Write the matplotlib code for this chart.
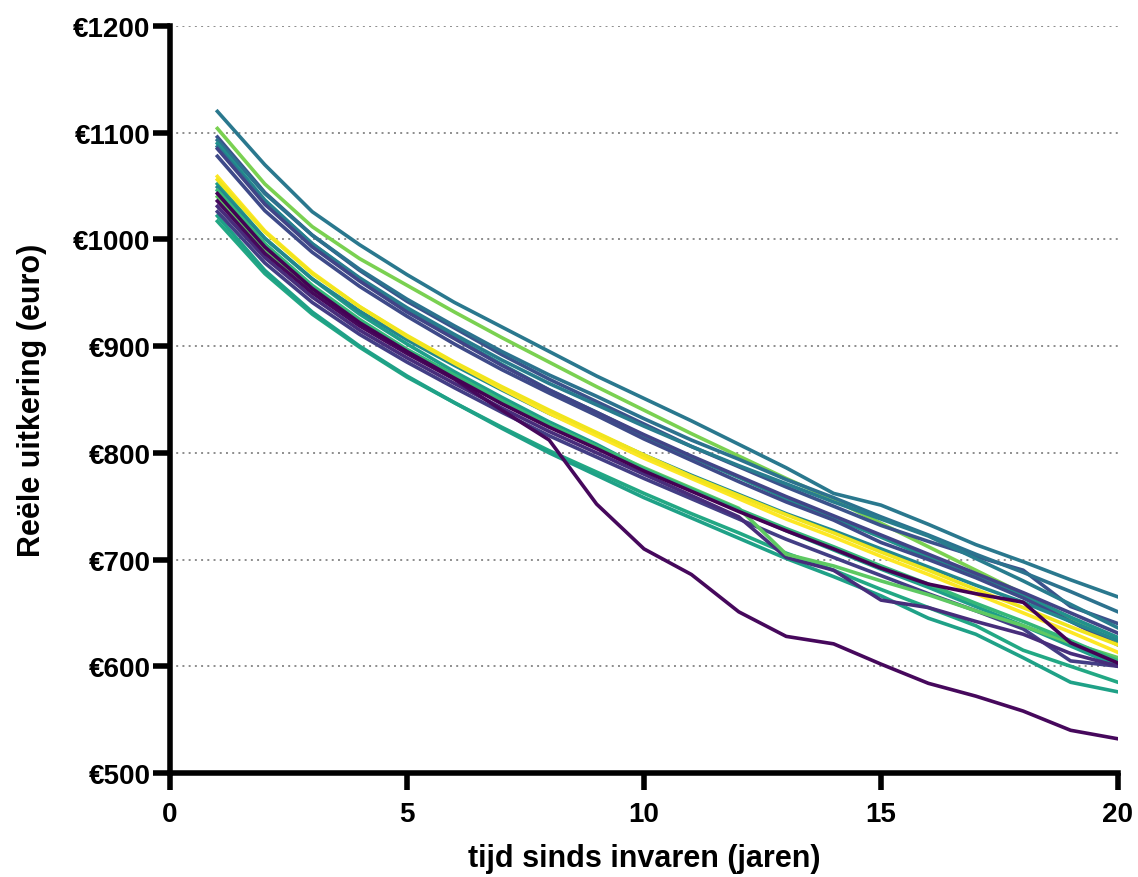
import numpy as np
import matplotlib.pyplot as plt

jaren = list(range(1, 21))

# reële uitkering per scenario (euro), jaar 1 t/m 20
scenarios = {
    'A': [1120, 1070, 1026, 995, 967, 941, 918, 895, 872, 851, 830, 808, 786, 762, 751, 733, 714, 698, 681, 665],
    'B': [1104, 1052, 1012, 982, 957, 932, 908, 885, 862, 840, 818, 797, 776, 756, 734, 712, 690, 668, 645, 622],
    'C': [1096, 1044, 1004, 971, 942, 917, 892, 869, 848, 827, 806, 787, 768, 750, 732, 717, 703, 690, 656, 640],
    'D': [1093, 1043, 1004, 972, 944, 919, 895, 873, 853, 832, 812, 794, 775, 758, 740, 723, 705, 688, 670, 651],
    'E': [1090, 1037, 996, 963, 934, 908, 883, 859, 838, 816, 796, 777, 757, 739, 721, 702, 684, 666, 646, 627],
    'S': [1087, 1036, 996, 964, 936, 911, 887, 865, 845, 825, 806, 788, 771, 754, 738, 722, 701, 680, 658, 636],
    'F': [1085, 1033, 993, 961, 932, 907, 882, 859, 838, 817, 797, 778, 759, 741, 723, 705, 687, 669, 650, 631],
    'G': [1078, 1027, 988, 956, 928, 902, 878, 856, 835, 813, 793, 773, 754, 737, 716, 700, 683, 664, 642, 620],
    'J': [1052, 1001, 963, 930, 902, 876, 852, 829, 808, 785, 765, 746, 727, 709, 691, 674, 656, 638, 619, 600],
    'K': [1049, 1001, 963, 933, 906, 882, 859, 837, 818, 798, 779, 761, 743, 727, 710, 693, 676, 660, 642, 624],
    'Q': [1017, 968, 930, 899, 871, 847, 824, 802, 782, 762, 743, 725, 706, 690, 672, 655, 638, 615, 600, 585],
    'R': [1022, 971, 932, 900, 872, 847, 823, 800, 779, 758, 739, 720, 701, 684, 666, 645, 630, 608, 585, 576],
    'P': [1026, 978, 941, 911, 885, 861, 838, 816, 796, 776, 757, 738, 719, 702, 685, 668, 652, 635, 605, 600],
    'O': [1031, 983, 946, 915, 889, 865, 842, 820, 800, 780, 760, 740, 702, 690, 662, 655, 642, 630, 612, 600],
    'T': [1040, 991, 953, 922, 895, 871, 848, 826, 806, 786, 767, 748, 705, 694, 680, 667, 652, 638, 622, 608],
    'L': [1046, 996, 957, 925, 897, 873, 849, 826, 806, 785, 766, 747, 729, 712, 694, 677, 659, 642, 624, 605],
    'N': [1036, 987, 950, 919, 893, 869, 840, 812, 752, 710, 686, 651, 628, 621, 602, 584, 572, 558, 540, 532],
    'H': [1059, 1008, 969, 937, 909, 884, 860, 837, 816, 795, 776, 757, 738, 721, 703, 686, 668, 650, 632, 613],
    'I': [1056, 1007, 968, 937, 910, 885, 862, 840, 819, 798, 778, 760, 742, 725, 707, 690, 672, 655, 637, 620],
    'M': [1043, 993, 954, 922, 895, 870, 846, 824, 804, 783, 764, 745, 727, 710, 692, 677, 668, 660, 622, 603],
}

kleuren = {
    'A': '#2a788e', 'B': '#7ad151', 'C': '#3b528b', 'D': '#2c728e',
    'E': '#21918c', 'S': '#287c8e', 'F': '#414487', 'G': '#3e4a89',
    'J': '#1f9e89', 'K': '#23888e', 'Q': '#22a884', 'R': '#1fa187',
    'P': '#433e85', 'O': '#472d7b', 'T': '#5ec962', 'L': '#35b779',
    'H': '#fde725', 'I': '#f1e51d', 'N': '#46085c', 'M': '#440154',
}

y_ticks = [500, 600, 700, 800, 900, 1000, 1100, 1200]
y_labels = ['€500', '€600', '€700', '€800', '€900', '€1000', '€1100', '€1200']
x_ticks = [0, 5, 10, 15, 20]

plt.rcParams['font.family'] = ['Liberation Sans', 'DejaVu Sans']

fig = plt.figure(figsize=(11.38, 8.78), dpi=100)
ax = fig.add_axes([0.1494, 0.1185, 0.833, 0.8507])

for y in y_ticks[1:]:
    ax.axhline(y, color='#8c8c8c', linestyle=(0, (1, 2.2)), linewidth=1.4, zorder=1)

for naam, waarden in scenarios.items():
    ax.plot(jaren, waarden, color=kleuren[naam], linewidth=2.6,
            solid_joinstyle='round', zorder=2)

ax.set_xlim(0, 20)
ax.set_ylim(500, 1200)
ax.set_xticks(x_ticks)
ax.set_yticks(y_ticks)
ax.set_yticklabels(y_labels)

for side in ['top', 'right']:
    ax.spines[side].set_visible(False)
for side in ['left', 'bottom']:
    ax.spines[side].set_linewidth(4)
    ax.spines[side].set_color('black')
ax.spines['bottom'].set_zorder(5)

ax.tick_params(axis='both', direction='out', width=4, length=12, color='black')
ax.tick_params(axis='y', labelsize=20, pad=2)
ax.tick_params(axis='x', labelsize=20, pad=8)
for lbl in ax.get_xticklabels() + ax.get_yticklabels():
    lbl.set_fontweight('bold')

ax.set_xlabel('tijd sinds invaren (jaren)', fontsize=22, fontweight='bold')
ax.set_ylabel('Reële uitkering (euro)', fontsize=22, fontweight='bold')
ax.xaxis.set_label_coords(0.5, -0.094)
ax.yaxis.set_label_coords(-0.13, 0.5)

fig.savefig('out.png', dpi=100)
